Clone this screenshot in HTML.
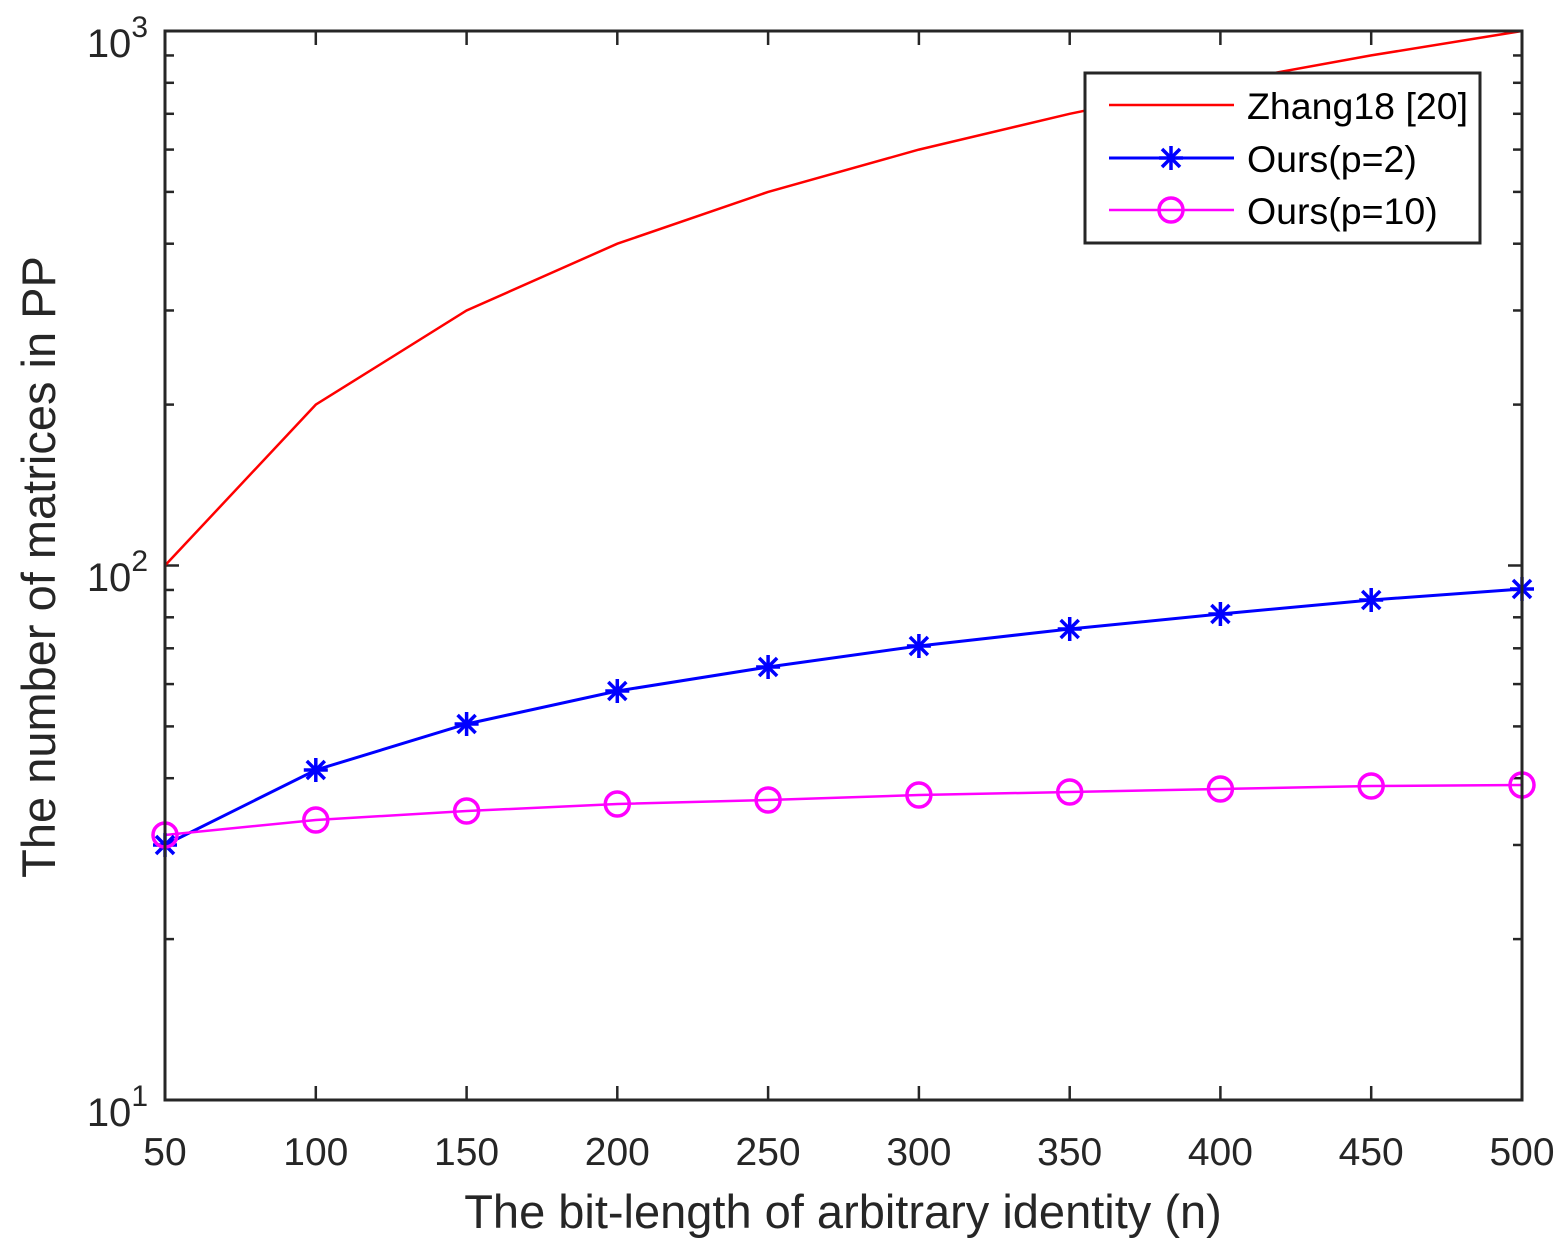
<!DOCTYPE html>
<html><head><style>body{margin:0;background:#fff}svg text{font-family:"Liberation Sans",Arial,sans-serif}</style></head>
<body>
<svg id="s" width="1563" height="1252" xmlns="http://www.w3.org/2000/svg">
<rect width="1563" height="1252" fill="#fff"/>
<g id="ticks" stroke="#262626" stroke-width="2.5"></g>
<polyline fill="none" stroke="#f00" stroke-width="2.5" points="165,565.5 315.8,404.6 466.6,310.5 617.3,243.7 768.1,191.9 918.9,149.6 1069.7,113.8 1220.4,82.8 1371.2,55.4 1522,31"/>
<polyline fill="none" stroke="#00f" stroke-width="3" points="165,845 315.8,770 466.6,724 617.3,691 768.1,667 918.9,646 1069.7,629 1220.4,614 1371.2,600 1522,589"/>
<polyline fill="none" stroke="#f0f" stroke-width="2.5" points="165,835 315.8,820 466.6,811 617.3,804 768.1,800 918.9,795 1069.7,792 1220.4,789 1371.2,786 1522,785"/>
<g id="mk"></g>
<rect x="165" y="31" width="1357" height="1069" fill="none" stroke="#262626" stroke-width="3"/>
<g font-size="39" fill="#262626" text-anchor="middle" id="xl"></g>
<g font-size="40" fill="#262626" text-anchor="end">
<text x="148" y="57">10<tspan font-size="30" dy="-20">3</tspan></text>
<text x="148" y="591">10<tspan font-size="30" dy="-20">2</tspan></text>
<text x="148" y="1126">10<tspan font-size="30" dy="-20">1</tspan></text>
</g>
<text x="843" y="1228" font-size="47" fill="#262626" text-anchor="middle">The bit-length of arbitrary identity (n)</text>
<text transform="translate(55,567) rotate(-90)" font-size="47" fill="#262626" text-anchor="middle">The number of matrices in PP</text>
<rect x="1085" y="73" width="395" height="170" fill="#fff" stroke="#262626" stroke-width="3"/>
<line x1="1109" y1="105" x2="1234" y2="105" stroke="#f00" stroke-width="2.5"/>
<line x1="1109" y1="158" x2="1234" y2="158" stroke="#00f" stroke-width="3"/>
<line x1="1109" y1="210" x2="1234" y2="210" stroke="#f0f" stroke-width="2.5"/>
<g id="lg"></g>
<g font-size="37.5" fill="#000">
<text x="1247" y="119">Zhang18 [20]</text>
<text x="1247" y="172">Ours(p=2)</text>
<text x="1247" y="224">Ours(p=10)</text>
</g>
</svg>
<script>
var NS="http://www.w3.org/2000/svg";
function el(p,t,a){var e=document.createElementNS(NS,t);for(var k in a)e.setAttribute(k,a[k]);document.getElementById(p).appendChild(e);return e;}
var xs=[165,315.8,466.6,617.3,768.1,918.9,1069.7,1220.4,1371.2,1522];
xs.forEach(function(x,i){
 el("ticks","line",{x1:x,y1:1100,x2:x,y2:1086});
 el("ticks","line",{x1:x,y1:31,x2:x,y2:45});
 var t=el("xl","text",{x:x,y:1165});t.textContent=50+50*i;
});
for(var d=0;d<2;d++){for(var k=2;k<=9;k++){var y=1100-534.5*(d+Math.log10(k));
 el("ticks","line",{x1:165,y1:y,x2:174,y2:y});el("ticks","line",{x1:1522,y1:y,x2:1513,y2:y});}}
[565.5].forEach(function(y){el("ticks","line",{x1:165,y1:y,x2:179,y2:y});el("ticks","line",{x1:1522,y1:y,x2:1508,y2:y});});
function star(g,x,y){var r=12;var a={stroke:"#00f","stroke-width":3.5};
 el(g,"line",Object.assign({x1:x-r,y1:y,x2:x+r,y2:y},a));
 el(g,"line",Object.assign({x1:x,y1:y-r,x2:x,y2:y+r},a));
 el(g,"line",Object.assign({x1:x-9,y1:y-9,x2:x+9,y2:y+9},a));
 el(g,"line",Object.assign({x1:x-9,y1:y+9,x2:x+9,y2:y-9},a));}
var yb=[845,770,724,691,667,646,629,614,600,589],ym=[835,820,811,804,800,795,792,789,786,785];
xs.forEach(function(x,i){star("mk",x,yb[i]);el("mk","circle",{cx:x,cy:ym[i],r:12,fill:"none",stroke:"#f0f","stroke-width":3.5});});
star("lg",1171,158);el("lg","circle",{cx:1171,cy:210,r:12,fill:"none",stroke:"#f0f","stroke-width":3.5});
</script>
</body></html>
